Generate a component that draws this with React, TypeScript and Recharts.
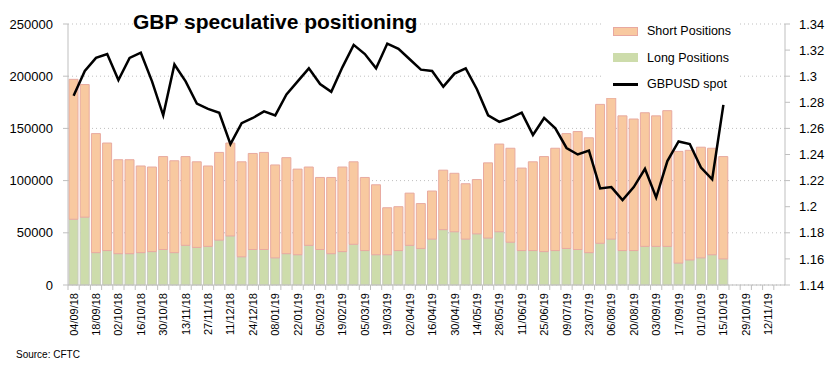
import { ComposedChart, Bar, Line, XAxis, YAxis, CartesianGrid } from 'recharts';

const FONT = '"Liberation Sans", Arial, sans-serif';

// weekly CFTC report dates (every other one is labelled)
const dates = [
	'04/09/18', '11/09/18', '18/09/18', '25/09/18', '02/10/18', '09/10/18', '16/10/18', '23/10/18',
	'30/10/18', '06/11/18', '13/11/18', '20/11/18', '27/11/18', '04/12/18', '11/12/18', '18/12/18',
	'24/12/18', '31/12/18', '08/01/19', '15/01/19', '22/01/19', '29/01/19', '05/02/19', '12/02/19',
	'19/02/19', '26/02/19', '05/03/19', '12/03/19', '19/03/19', '26/03/19', '02/04/19', '09/04/19',
	'16/04/19', '23/04/19', '30/04/19', '07/05/19', '14/05/19', '21/05/19', '28/05/19', '04/06/19',
	'11/06/19', '18/06/19', '25/06/19', '02/07/19', '09/07/19', '16/07/19', '23/07/19', '30/07/19',
	'06/08/19', '13/08/19', '20/08/19', '27/08/19', '03/09/19', '10/09/19', '17/09/19', '24/09/19',
	'01/10/19', '08/10/19', '15/10/19', '22/10/19', '29/10/19', '05/11/19', '12/11/19', '19/11/19',
];

const longPositions = [
	63000, 65000, 31000, 33000, 30000, 30000, 31000, 32000, 34000, 31000, 38000, 36000, 37000, 43000, 47000, 27000,
	34000, 34000, 26000, 30000, 29000, 38000, 34000, 30000, 32000, 39000, 33000, 29000, 29000, 33000, 38000, 35000,
	44000, 53000, 51000, 44000, 49000, 45000, 51000, 41000, 33000, 33000, 32000, 33000, 35000, 34000, 31000, 40000,
	44000, 33000, 33000, 37000, 37000, 37000, 21000, 24000, 26000, 29000, 25000,
];

const shortPositions = [
	134000, 127000, 114000, 103000, 90000, 90000, 83000, 81000, 89000, 88000, 85000, 82000, 77000, 84000, 89000, 91000,
	92000, 93000, 89000, 92000, 82000, 75000, 69000, 73000, 81000, 79000, 70000, 67000, 45000, 42000, 50000, 43000,
	46000, 57000, 56000, 53000, 52000, 72000, 84000, 90000, 79000, 85000, 91000, 98000, 110000, 113000, 110000, 133000,
	135000, 129000, 126000, 128000, 125000, 130000, 107000, 105000, 106000, 102000, 98000,
];

const gbpusd = [
	1.285, 1.304, 1.314, 1.317, 1.297, 1.314, 1.318, 1.296, 1.27, 1.309, 1.296, 1.279, 1.275, 1.272, 1.248, 1.264,
	1.268, 1.273, 1.27, 1.286, 1.296, 1.306, 1.294, 1.288, 1.307, 1.324, 1.317, 1.306, 1.325, 1.321, 1.313, 1.305,
	1.304, 1.292, 1.302, 1.306, 1.29, 1.27, 1.265, 1.268, 1.272, 1.255, 1.268, 1.26, 1.245, 1.24, 1.243, 1.214,
	1.215, 1.205, 1.215, 1.229, 1.207, 1.235, 1.25, 1.248, 1.23, 1.221, 1.278,
];

const leftTicks = [0, 50000, 100000, 150000, 200000, 250000];
const rightTicks = [1.14, 1.16, 1.18, 1.2, 1.22, 1.24, 1.26, 1.28, 1.3, 1.32, 1.34];

const data = dates.map((d, i) => ({
	date: d,
	long: longPositions[i] ?? null,
	short: shortPositions[i] ?? null,
	spot: gbpusd[i] ?? null,
}));

const HALF_BAND = 5.6;

const DateTick = (props: any) => {
	const { x, y, payload, index } = props;
	return (
		<g>
			<line x1={x - HALF_BAND} x2={x - HALF_BAND} y1={y - 8} y2={y - 3} stroke="#bfbfbf" />
			{index % 2 === 0 && (
				<text
					x={0}
					y={0}
					transform={`translate(${x + 4},${y}) rotate(-90)`}
					textAnchor="end"
					fontSize={11}
					fontFamily={FONT}
					fill="#000">
					{payload.value}
				</text>
			)}
		</g>
	);
};

const legendItems = [
	{ label: 'Short Positions', kind: 'box', fill: '#f8c9a0', stroke: '#e8a8a0' },
	{ label: 'Long Positions', kind: 'box', fill: '#cddcab', stroke: '#cddcab' },
	{ label: 'GBPUSD spot', kind: 'line', fill: '#000', stroke: '#000' },
];

const LegendBox = () => (
	<div
		style={{
			position: 'absolute',
			left: 603,
			top: 18,
			background: '#fff',
			width: 134,
			height: 80,
			fontFamily: FONT,
		}}>
		{legendItems.map((it) => (
			<div key={it.label} style={{ display: 'flex', alignItems: 'center', height: 26.5 }}>
				<div style={{ width: 44, display: 'flex', justifyContent: 'center' }}>
					{it.kind === 'box' ? (
						<div style={{ width: 23, height: 7, background: it.fill, border: `1px solid ${it.stroke}` }} />
					) : (
						<div style={{ width: 25, height: 3, background: '#000' }} />
					)}
				</div>
				<span style={{ fontSize: 12.5, color: '#000' }}>{it.label}</span>
			</div>
		))}
	</div>
);

export default function App() {
	return (
		<div style={{ position: 'absolute', left: 0, top: 0, width: 840, height: 375, background: '#fff' }}>
			<ComposedChart
				width={840}
				height={375}
				data={data}
				margin={{ top: 24, right: 0, bottom: 0, left: 0 }}
				barCategoryGap={1}>
				<CartesianGrid
					yAxisId="left"
					vertical={false}
					stroke="#bfbfbf"
					strokeDasharray="1 3"
				/>
				<XAxis
					dataKey="date"
					interval={0}
					height={90}
					tick={<DateTick />}
					tickLine={false}
					axisLine={{ stroke: '#bfbfbf' }}
				/>
				<YAxis
					yAxisId="left"
					width={68}
					domain={[0, 250000]}
					ticks={leftTicks}
					interval={0}
					tickSize={5}
					tickMargin={10}
					tickLine={{ stroke: '#bfbfbf' }}
					axisLine={{ stroke: '#bfbfbf' }}
					tick={{ fontSize: 13, fill: '#000', fontFamily: FONT }}
				/>
				<YAxis
					yAxisId="right"
					orientation="right"
					width={55}
					domain={[1.14, 1.34]}
					ticks={rightTicks}
					interval={0}
					tickSize={5}
					tickMargin={9}
					tickLine={{ stroke: '#bfbfbf' }}
					axisLine={{ stroke: '#bfbfbf' }}
					tickFormatter={(v: number) => String(Number(v.toFixed(2)))}
					tick={{ fontSize: 13, fill: '#000', fontFamily: FONT }}
				/>
				<Bar
					yAxisId="left"
					dataKey="long"
					name="Long Positions"
					stackId="pos"
					fill="#cddcab"
					stroke="#c9cbc0"
					strokeWidth={1}
					isAnimationActive={false}
				/>
				<Bar
					yAxisId="left"
					dataKey="short"
					name="Short Positions"
					stackId="pos"
					fill="#f8c9a0"
					stroke="#e8aaa0"
					strokeWidth={1}
					isAnimationActive={false}
				/>
				<Line
					yAxisId="right"
					dataKey="spot"
					name="GBPUSD spot"
					type="linear"
					stroke="#000"
					strokeWidth={2.5}
					dot={false}
					isAnimationActive={false}
				/>
			</ComposedChart>
			<LegendBox />
			<div
				style={{
					position: 'absolute',
					left: 133,
					top: 10,
					fontFamily: FONT,
					fontWeight: 'bold',
					fontSize: 21,
					color: '#000',
					whiteSpace: 'nowrap',
				}}>
				GBP speculative positioning
			</div>
			<div style={{ position: 'absolute', left: 16, top: 349, fontFamily: FONT, fontSize: 10, color: '#000' }}>
				Source: CFTC
			</div>
		</div>
	);
}
